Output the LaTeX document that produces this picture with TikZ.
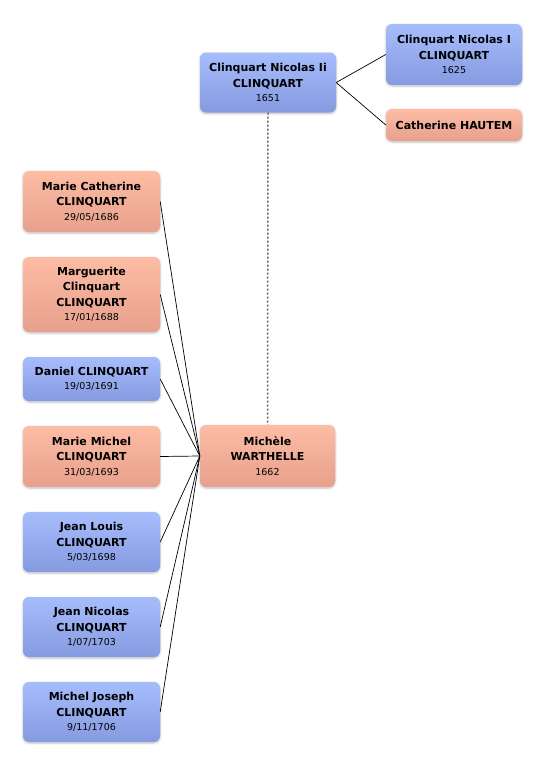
\documentclass[tikz,border=0pt]{standalone}
\usepackage{fontspec}
\setmainfont{DejaVu Sans}
\usetikzlibrary{shadows.blur}
\definecolor{bluetop}{RGB}{166,189,252}
\definecolor{bluebot}{RGB}{134,154,224}
\definecolor{pinktop}{RGB}{253,188,164}
\definecolor{pinkbot}{RGB}{231,160,141}
\newcommand{\dt}[1]{\\[-1pt]{\fontsize{9.5}{14}\selectfont\mdseries #1}}
\tikzset{
  person/.style={rounded corners=6pt, minimum width=137pt, inner sep=0pt, align=center,
    font=\fontsize{11}{15.5}\selectfont\bfseries,
    blur shadow={shadow blur steps=6, shadow xshift=0pt, shadow yshift=-1pt, shadow opacity=25, shadow blur extra rounding=2pt}},
  male/.style={person, top color=bluetop, bottom color=bluebot},
  female/.style={person, top color=pinktop, bottom color=pinkbot},
  link/.style={draw=black, line width=0.7pt},
  dotlink/.style={draw=black!60, line width=1.5pt, dash pattern=on 2pt off 2pt}
}
\begin{document}
\begin{tikzpicture}[x=1pt,y=-1pt]
\useasboundingbox (0,0) rectangle (546,766);
\node[male, minimum width=136pt, minimum height=60pt] (n2) at (268,82.5) {Clinquart Nicolas Ii\\CLINQUART\dt{1651}};
\node[male, minimum width=136pt, minimum height=61pt] (n1) at (454,54.5) {Clinquart Nicolas I\\CLINQUART\dt{1625}};
\node[female, minimum width=136pt, minimum height=32pt] (cat) at (454,125) {Catherine HAUTEM};
\node[female, minimum width=135pt, minimum height=62pt] (mw) at (267.5,456) {Michèle\\WARTHELLE\dt{1662}};
\node[female, minimum height=61pt] (mc) at (91.5,201.5) {Marie Catherine\\CLINQUART\dt{29/05/1686}};
\node[female, minimum height=75pt] (mg) at (91.5,294.5) {Marguerite\\Clinquart\\CLINQUART\dt{17/01/1688}};
\node[male, minimum height=44pt] (dan) at (91.5,379) {Daniel CLINQUART\dt{19/03/1691}};
\node[female, minimum height=61pt] (mm) at (91.5,456.5) {Marie Michel\\CLINQUART\dt{31/03/1693}};
\node[male, minimum height=60pt] (jl) at (91.5,542) {Jean Louis\\CLINQUART\dt{5/03/1698}};
\node[male, minimum height=60pt] (jn) at (91.5,627) {Jean Nicolas\\CLINQUART\dt{1/07/1703}};
\node[male, minimum height=60pt] (mj) at (91.5,712) {Michel Joseph\\CLINQUART\dt{9/11/1706}};
\draw[link] (n2.east) -- (n1.west);
\draw[link] (n2.east) -- (cat.west);
\draw[dotlink] (n2.south) -- (mw.north);
\foreach \c in {mc,mg,dan,mm,jl,jn,mj} \draw[link] (\c.east) -- (mw.west);
\end{tikzpicture}
\end{document}
